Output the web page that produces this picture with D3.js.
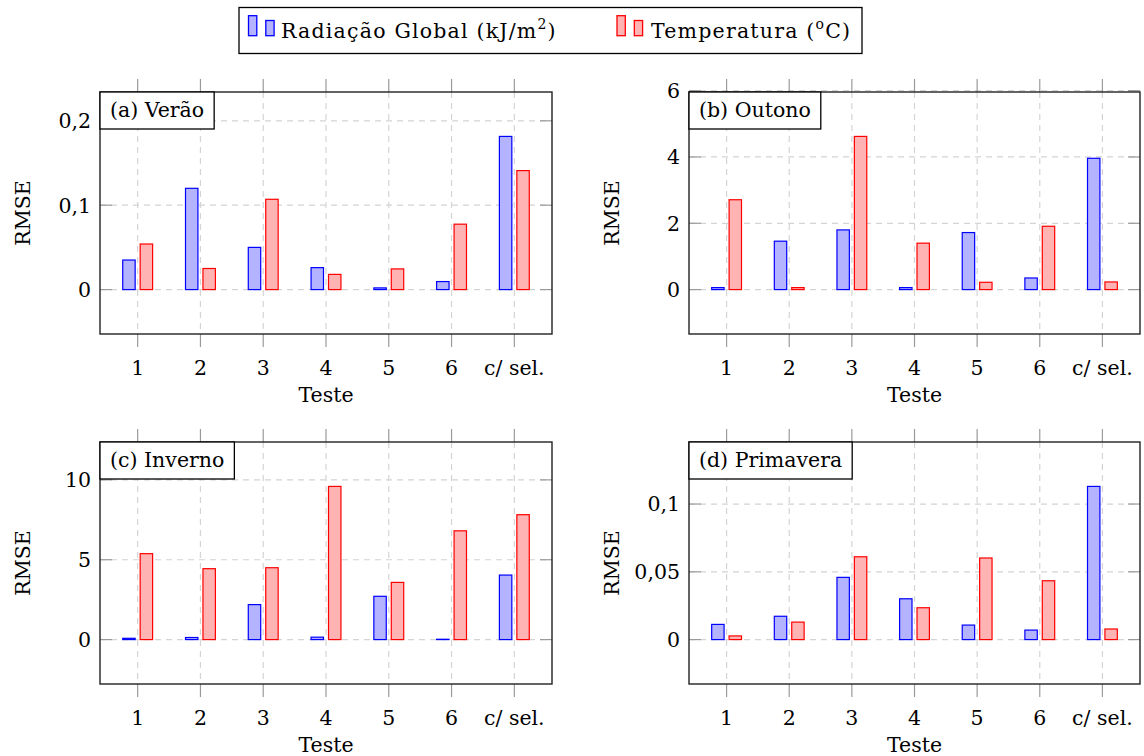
<!DOCTYPE html>
<html><head><meta charset="utf-8">
<script src="https://cdn.jsdelivr.net/npm/d3@7"></script>
<style>
body{margin:0;background:#fff;}
text{font-family:"DejaVu Serif","Liberation Serif",serif;fill:#000;}
</style>
</head><body>
<svg id="chart" width="1144" height="756"></svg>
<script>
// ---- data ----
const categories = ["1", "2", "3", "4", "5", "6", "c/ sel."];
const seriesNames = ["Radiação Global", "Temperatura"];
const panelTitles = ["(a) Verão", "(b) Outono", "(c) Inverno", "(d) Primavera"];

const radVerao = [0.035, 0.12, 0.05, 0.026, 0.002, 0.0095, 0.1815];
const tempVerao = [0.054, 0.025, 0.107, 0.018, 0.0245, 0.0775, 0.141];
const radOutono = [0.06, 1.46, 1.80, 0.06, 1.72, 0.35, 3.96];
const tempOutono = [2.71, 0.06, 4.62, 1.40, 0.22, 1.91, 0.23];
const radInverno = [0.08, 0.13, 2.19, 0.15, 2.71, 0.02, 4.04];
const tempInverno = [5.38, 4.44, 4.50, 9.59, 3.58, 6.81, 7.82];
const radPrimavera = [0.0112, 0.0172, 0.0459, 0.0301, 0.0107, 0.007, 0.113];
const tempPrimavera = [0.0027, 0.0129, 0.0611, 0.0235, 0.0602, 0.0434, 0.0078];

const yTicksVerao = [0, 0.1, 0.2];
const yLabelsVerao = ["0", "0,1", "0,2"];
const yTicksOutono = [0, 2, 4, 6];
const yLabelsOutono = ["0", "2", "4", "6"];
const yTicksInverno = [0, 5, 10];
const yLabelsInverno = ["0", "5", "10"];
const yTicksPrimavera = [0, 0.05, 0.1];
const yLabelsPrimavera = ["0", "0,05", "0,1"];

const xTitle = "Teste";
const yTitle = "RMSE";

// ---- layout / style ----
const FS = 20.5;
const panels = [
  {title: panelTitles[0], rad: radVerao, temp: tempVerao, ticks: yTicksVerao, labels: yLabelsVerao, left: 100, right: 552, top: 92, bottom: 334},
  {title: panelTitles[1], rad: radOutono, temp: tempOutono, ticks: yTicksOutono, labels: yLabelsOutono, left: 689, right: 1140, top: 92, bottom: 334},
  {title: panelTitles[2], rad: radInverno, temp: tempInverno, ticks: yTicksInverno, labels: yLabelsInverno, left: 100, right: 552, top: 442, bottom: 684},
  {title: panelTitles[3], rad: radPrimavera, temp: tempPrimavera, ticks: yTicksPrimavera, labels: yLabelsPrimavera, left: 689, right: 1140, top: 442, bottom: 684}
];
const colors = [
  {fill: "#b3b3ff", stroke: "#0000ff"},
  {fill: "#ffb3b3", stroke: "#ff0000"}
];
const svg = d3.select("#chart");
const tickColor = "#9a9a9a";
const gridColor = "#d4d4d4";

panels.forEach(p => {
  const g = svg.append("g");
  const x = d3.scaleLinear().domain([0.4, categories.length + 0.6]).range([p.left, p.right]);
  const maxV = d3.max(p.rad.concat(p.temp));
  const pad = 0.29;
  const y = d3.scaleLinear().domain([-pad * maxV, (1 + pad) * maxV]).range([p.bottom, p.top]);
  const xPos = categories.map((c, i) => i + 1);

  // grid
  g.selectAll(".gx").data(xPos).join("line")
    .attr("x1", d => x(d)).attr("x2", d => x(d))
    .attr("y1", p.top).attr("y2", p.bottom)
    .attr("stroke", gridColor).attr("stroke-width", 1.2).attr("stroke-dasharray", "6,5");
  g.selectAll(".gy").data(p.ticks).join("line")
    .attr("x1", p.left).attr("x2", p.right)
    .attr("y1", d => y(d)).attr("y2", d => y(d))
    .attr("stroke", gridColor).attr("stroke-width", 1.2).attr("stroke-dasharray", "6,5");

  // bars
  const bw = 0.198, off = 0.139;
  [p.rad, p.temp].forEach((vals, s) => {
    const o = s === 0 ? -off : off;
    g.selectAll(null).data(vals).join("rect")
      .attr("x", (d, i) => x(xPos[i] + o - bw / 2))
      .attr("width", x(bw) - x(0))
      .attr("y", d => y(d))
      .attr("height", d => Math.max(0, y(0) - y(d)))
      .attr("fill", colors[s].fill)
      .attr("stroke", colors[s].stroke)
      .attr("stroke-width", 1.2);
  });

  // ticks: x outward top & bottom
  const tl = 13;
  g.selectAll(null).data(xPos).join("line")
    .attr("x1", d => x(d)).attr("x2", d => x(d))
    .attr("y1", p.bottom).attr("y2", p.bottom + tl)
    .attr("stroke", tickColor).attr("stroke-width", 1.2);
  g.selectAll(null).data(xPos).join("line")
    .attr("x1", d => x(d)).attr("x2", d => x(d))
    .attr("y1", p.top).attr("y2", p.top - tl)
    .attr("stroke", tickColor).attr("stroke-width", 1.2);
  // y ticks inward left & right
  g.selectAll(null).data(p.ticks).join("line")
    .attr("x1", p.left).attr("x2", p.left + 12)
    .attr("y1", d => y(d)).attr("y2", d => y(d))
    .attr("stroke", tickColor).attr("stroke-width", 1.2);
  g.selectAll(null).data(p.ticks).join("line")
    .attr("x1", p.right).attr("x2", p.right - 12)
    .attr("y1", d => y(d)).attr("y2", d => y(d))
    .attr("stroke", tickColor).attr("stroke-width", 1.2);

  // frame
  g.append("rect").attr("x", p.left).attr("y", p.top)
    .attr("width", p.right - p.left).attr("height", p.bottom - p.top)
    .attr("fill", "none").attr("stroke", "#222").attr("stroke-width", 1.4);

  // tick labels
  g.selectAll(null).data(categories).join("text")
    .attr("x", (d, i) => x(xPos[i])).attr("y", p.bottom + 41)
    .attr("text-anchor", "middle").attr("font-size", FS).text(d => d);
  g.selectAll(null).data(p.ticks).join("text")
    .attr("x", p.left - 9).attr("y", d => y(d)).attr("dy", "0.36em")
    .attr("text-anchor", "end").attr("font-size", FS)
    .text((d, i) => p.labels[i]);

  // axis titles
  g.append("text").attr("x", (p.left + p.right) / 2).attr("y", p.bottom + 68)
    .attr("text-anchor", "middle").attr("font-size", FS).text(xTitle);
  g.append("text")
    .attr("transform", `translate(${p.left - 70},${(p.top + p.bottom) / 2}) rotate(-90)`)
    .attr("text-anchor", "middle").attr("font-size", FS).text(yTitle);

  // panel title box
  const tb = g.append("g");
  const r = tb.append("rect").attr("x", p.left).attr("y", p.top).attr("height", 37)
    .attr("fill", "#fff").attr("stroke", "#000").attr("stroke-width", 1.3);
  const t = tb.append("text").attr("x", p.left + 10).attr("y", p.top + 25)
    .attr("font-size", FS).text(p.title);
  const w = t.node().getComputedTextLength();
  r.attr("width", w + 20);
});

// ---- legend ----
const lg = svg.append("g");
lg.append("rect").attr("x", 239).attr("y", 7.5).attr("width", 623).attr("height", 46)
  .attr("fill", "#fff").attr("stroke", "#000").attr("stroke-width", 1.3);
const legItems = [
  {x: 248.5, textX: 281, parts: [["Radiação Global (kJ/m", 0], ["2", 1], [")", 2]]},
  {x: 617, textX: 651, parts: [["Temperatura (", 0], ["o", 1], ["C)", 2]]}
];
legItems.forEach((it, s) => {
  lg.append("rect").attr("x", it.x).attr("y", 15.7).attr("width", 8.3).attr("height", 20)
    .attr("fill", colors[s].fill).attr("stroke", colors[s].stroke).attr("stroke-width", 1.3);
  lg.append("rect").attr("x", it.x + 17.3).attr("y", 20.5).attr("width", 8.3).attr("height", 15.2)
    .attr("fill", colors[s].fill).attr("stroke", colors[s].stroke).attr("stroke-width", 1.3);
  const t = lg.append("text").attr("x", it.textX).attr("y", 38).attr("font-size", FS)
    .attr("letter-spacing", 1.2);
  it.parts.forEach(([txt, kind]) => {
    const ts = t.append("tspan").text(txt);
    if (kind === 1) ts.attr("dy", -9).attr("font-size", 14);
    if (kind === 2) ts.attr("dy", 9);
  });
});
</script>
</body></html>
